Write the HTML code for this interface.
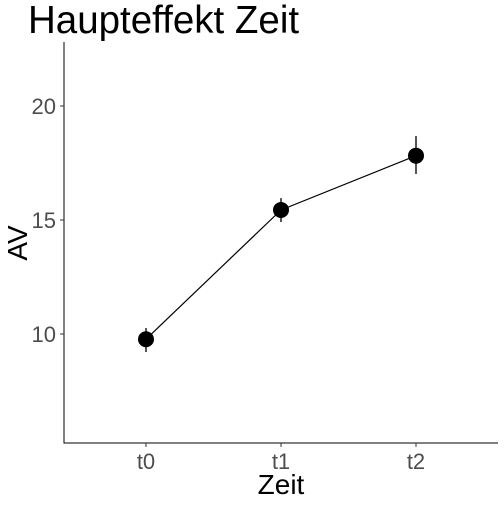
<!DOCTYPE html>
<html><head><meta charset="utf-8"><style>
body{margin:0;background:#fff}
svg text{font-family:"Liberation Sans",sans-serif}
</style></head><body>
<svg id="chart" width="504" height="504">
<text x="28" y="33" font-size="38.5" fill="#000">Haupteffekt Zeit</text>
<g id="plot"></g>
<text x="281" y="494" font-size="28" text-anchor="middle" fill="#000">Zeit</text>
<text transform="translate(27,243) rotate(-90)" font-size="28" text-anchor="middle" fill="#000">AV</text>
</svg>
<script>
const categories=["t0","t1","t2"];
const means=[9.77,15.44,17.82];
const lows=[9.21,14.91,17.02];
const highs=[10.26,15.96,18.68];
const yTicks=[10,15,20];
const NS="http://www.w3.org/2000/svg";
const g=document.getElementById('plot');
const xS=i=>146+i*135;
const yS=v=>334-(v-10)*22.8;
function mk(t,a){const e=document.createElementNS(NS,t);for(const k in a)e.setAttribute(k,a[k]);g.appendChild(e);return e;}
let e=mk('line',{x1:64,y1:42,x2:64,y2:443.5,stroke:'#000','stroke-width':1});


e=mk('line',{x1:63.5,y1:443,x2:498,y2:443,stroke:'#000','stroke-width':1});


yTicks.forEach(v=>{
 let t=mk('line',{x1:60,x2:64,y1:yS(v),y2:yS(v),stroke:'#333'});
 
 
 let l=mk('text',{x:56,y:yS(v)+8,'font-size':22,'text-anchor':'end',fill:'#4d4d4d'});l.textContent=v;
 
 
});
categories.forEach((c,i)=>{
 let t=mk('line',{x1:xS(i),x2:xS(i),y1:443,y2:447,stroke:'#333'});
 
 
 let l=mk('text',{x:xS(i),y:469,'font-size':22,'text-anchor':'middle',fill:'#4d4d4d'});l.textContent=c;
 
 
});
const pl=mk('polyline',{points:means.map((v,i)=>xS(i)+','+yS(v)).join(' '),fill:'none',stroke:'#000','stroke-width':1.2});


means.forEach((v,i)=>{
 let b=mk('line',{x1:xS(i),x2:xS(i),y1:yS(lows[i]),y2:yS(highs[i]),stroke:'#555','stroke-width':2});
 
 
 let p=mk('circle',{cx:xS(i),cy:yS(v),r:8,fill:'#000'});
 
 
});
</script>
</body></html>
